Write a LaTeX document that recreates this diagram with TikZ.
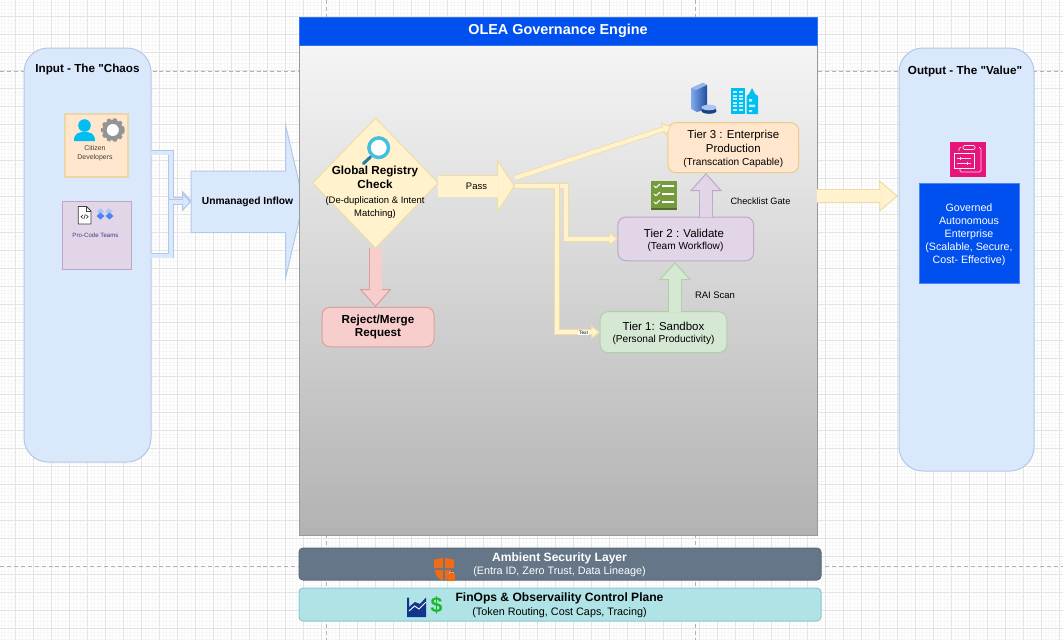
\documentclass[tikz,border=0pt]{standalone}
\usepackage{fontspec}
\setmainfont{Liberation Sans}
\newfontfamily\qf{Liberation Sans}
\usetikzlibrary{arrows.meta,shapes.geometric,calc}
\definecolor{lanefill}{HTML}{DAE8FC}
\definecolor{laneline}{HTML}{B2C8E8}
\definecolor{creamfill}{HTML}{FFF2CC}
\definecolor{creamline}{HTML}{EFDDA6}
\definecolor{redfill}{HTML}{F8CECC}
\definecolor{redline}{HTML}{D9A09E}
\definecolor{orangefill}{HTML}{FFE6CC}
\definecolor{orangeline}{HTML}{EBCB8B}
\definecolor{citizenline}{HTML}{EBD6A8}
\definecolor{purplefill}{HTML}{E1D5E7}
\definecolor{purpleline}{HTML}{BBA8C8}
\definecolor{greenfill}{HTML}{D5E8D4}
\definecolor{greenline}{HTML}{B0D0A4}
\definecolor{engineblue}{HTML}{0050EF}
\definecolor{slatefill}{HTML}{647687}
\definecolor{tealfill}{HTML}{B0E3E6}
\definecolor{tealline}{HTML}{8CC8CE}
\definecolor{iconcyan}{HTML}{00BEF2}
\definecolor{gridmajor}{HTML}{E4E4E4}
\definecolor{gridminor}{HTML}{F7F7F7}
\definecolor{diamonddark}{HTML}{4A86F0}
\definecolor{diamondlight}{HTML}{A9C6F8}
\definecolor{checkgreen}{HTML}{759B3C}
\definecolor{pinkicon}{HTML}{E7157B}
\definecolor{shieldorange}{HTML}{F26A13}
\definecolor{navyicon}{HTML}{10358C}
\definecolor{lensblue}{HTML}{45C0DC}
\definecolor{handleblue}{HTML}{1E7FA8}
\definecolor{serverblue}{HTML}{2A6FE0}
\definecolor{dollargreen}{HTML}{1CB82C}
\newcommand\fHead{\fontsize{10.8pt}{12.5pt}\selectfont}
\newcommand\fL{\fontsize{8.75pt}{10.6pt}\selectfont}
\newcommand\fTier{\fontsize{8.6pt}{10.9pt}\selectfont}
\newcommand\fTierSub{\fontsize{7.6pt}{9.6pt}\selectfont}
\newcommand\fInflow{\fontsize{7.7pt}{9.6pt}\selectfont}
\newcommand\fBar{\fontsize{9.05pt}{10.6pt}\selectfont}
\newcommand\fBarSub{\fontsize{8.1pt}{9.6pt}\selectfont}
\newcommand\fGov{\fontsize{8pt}{9.7pt}\selectfont}
\newcommand\fS{\fontsize{7.1pt}{9.75pt}\selectfont}
\newcommand\fT{\fontsize{7.1pt}{9.6pt}\selectfont}
\tikzset{
  wh/.style 2 args={minimum width=#1*0.75pt,minimum height=#2*0.75pt,inner sep=0pt,outer sep=0pt},
  thinline/.style={line width=0.75pt},
  lanebox/.style={thinline,rectangle,rounded corners=18pt,fill=lanefill,draw=laneline},
  tierbox/.style={thinline,rectangle,rounded corners=6pt,align=center},
  txt/.style={inner sep=0pt,outer sep=0pt,align=center},
  blockflow/.style n args={5}{line width=#1*0.75pt,draw=#4,shorten >={(#2-1)*0.75pt},
    preaction={draw=#5,line width={(#1+1.6)*0.75pt},shorten >=0pt,
      -{Triangle[length=#2*0.75pt,width=#3*0.75pt,fill=#4,color=#5,line width=0.75pt]}}},
  thincream/.style={blockflow={4}{9}{14}{creamfill}{creamline}},
  thinblue/.style={blockflow={4}{9}{19}{lanefill}{laneline}},
}
\begin{document}
\begin{tikzpicture}[x=0.75pt,y=-0.75pt]
\useasboundingbox (0,0) rectangle (1063,640);
\fill[white] (0,0) rectangle (1063,640);
% grid
\foreach \i in {0,...,295}{\draw[gridminor,line width=0.5pt] ({\i*3.6+1},0) -- ({\i*3.6+1},640);}
\foreach \i in {0,...,178}{\draw[gridminor,line width=0.5pt] (0,{\i*3.6+2.1}) -- (1063,{\i*3.6+2.1});}
\foreach \i in {0,...,59}{\draw[gridmajor,line width=0.6pt] ({\i*18+15.3},0) -- ({\i*18+15.3},640);}
\foreach \i in {-1,...,35}{\draw[gridmajor,line width=0.6pt] (0,{\i*18+16.5}) -- (1063,{\i*18+16.5});}
\draw[black!30,line width=0.6pt,dash pattern=on 3pt off 2.2pt] (0,71) -- (1063,71);
\draw[black!30,line width=0.6pt,dash pattern=on 3pt off 2.2pt] (0,566.3) -- (1063,566.3);
\draw[black!30,line width=0.6pt,dash pattern=on 3pt off 2.2pt] (326.7,0) -- (326.7,640);
\draw[black!30,line width=0.6pt,dash pattern=on 3pt off 2.2pt] (695,0) -- (695,640);

% lanes
\node[lanebox,wh={127}{414}] (inlane) at (87.5,255) {};
\node[lanebox,wh={135}{423}] (outlane) at (966.5,259.5) {};
\node[txt,font=\fL\bfseries] (inlabel) at (87.5,69.5) {Input - The {\qf"}Chaos};
\node[txt,font=\fL\bfseries] (outlabel) at (965,71) {Output - The {\qf"}Value{\qf"}};

% input boxes
\node[rectangle,wh={63}{63},fill=orangefill,draw=citizenline,line width=1.5pt] (citizen) at (96.5,145) {};
\node[rectangle,wh={69}{68},fill=purplefill,draw=purpleline,line width=0.75pt] (procode) at (96.5,235) {};
\node[txt,font=\fontsize{5.2pt}{6.8pt}\selectfont,text=black!75] (citizentxt) at (95,153.5) {Citizen\\Developers};
\node[txt,font=\fontsize{4.6pt}{6.8pt}\selectfont,text=blue!35!black!75] (procodetxt) at (95.5,235.5) {Pro-Code Teams};
% person
\fill[iconcyan] (84.5,125.5) circle (6.3);
\fill[iconcyan] (74,141) .. controls (74,133) and (79,132) .. (84.5,132) .. controls (90,132) and (95,133) .. (95,141) -- cycle;
% gear
\draw[black!42,line width=2.1pt,dash pattern=on 2.6pt off 2.1pt] (112.8,130) circle (10.6);
\draw[black!42,line width=3.2pt,fill=white] (112.8,130) circle (8.3);
% file icon
\draw[black!75,line width=0.6pt,fill=white,line join=round] (78.3,206.5) -- (86.5,206.5) -- (91,211) -- (91,224) -- (78.3,224) -- cycle;
\draw[black!75,line width=0.45pt] (86.5,206.5) -- (86.5,211) -- (91,211);
\draw[black!75,line width=0.5pt] (83,215) -- (81,216.7) -- (83,218.4) (86.2,215) -- (88.2,216.7) -- (86.2,218.4) (85.3,214.3) -- (83.9,219);
% diamonds icon
\fill[diamondlight] (97,211.5) -- (100.5,208) -- (104,211.5) -- (100.5,215) -- cycle;
\fill[diamondlight] (105.5,211.5) -- (109,208) -- (112.5,211.5) -- (109,215) -- cycle;
\fill[diamonddark] (96.5,216) -- (100.5,212.5) -- (104.5,216) -- (100.5,219.5) -- cycle;
\fill[diamonddark] (105.5,216) -- (109.5,212.5) -- (113.5,216) -- (109.5,219.5) -- cycle;

% inflow elbows
\coordinate (inA) at (151,152.5);
\coordinate (inB) at (151,255.5);
\coordinate (inflowW) at (191,201);
\draw[thinblue] (inA) -- (171,152.5) -- (171,200) -- ($(inflowW)+(0,-1)$);
\draw[thinblue] (inB) -- (171,255.5) -- (171,202) -- ($(inflowW)+(0,1)$);

% unmanaged inflow block
\draw[thinline,fill=lanefill,draw=laneline,line join=miter]
  (inflowW |- 0,171) -- (285.5,171) -- (285.5,125) -- (303.5,201.5) -- (285.5,278) -- (285.5,232.5) -- (inflowW |- 0,232.5) -- cycle;
\node[txt,font=\fInflow\bfseries] (inflowtxt) at (247.5,201.5) {Unmanaged Inflow};

% engine
\shade[top color=black!4,bottom color=black!30] (299,45) rectangle (817,535);
\node[rectangle,wh={518}{490},draw=black!40,thinline] (engine) at (558,290) {};
\node[rectangle,wh={518}{28},fill=engineblue,draw=engineblue!80!white,thinline,text=white,font=\fHead\bfseries] (enginehead) at (558,31) {\raisebox{-0.6pt}{OLEA Governance Engine}};

% registry diamond
\node[diamond,aspect=0.965,wh={125.4}{130},fill=creamfill,draw=creamline,thinline] (registry) at (375.5,183) {};
\draw[handleblue,line width=2.3pt,line cap=round] (370.5,157) -- (363.5,163.5);
\draw[lensblue,line width=2.6pt,fill=white] (378.7,147.7) circle (9.8);
\node[txt,font=\fL\bfseries] (registrytitle) at (375,177) {Global Registry\\Check};
\node[txt,font=\fS] (registrysub) at (375,207.8) {(De-duplication \& Intent\\Matching)};

% reject
\node[tierbox,wh={112}{39.5},fill=redfill,draw=redline,font=\fL\bfseries] (reject) at (378,327) {\raisebox{-0.8pt}{Reject/Merge}\\\raisebox{-0.4pt}{Request}};
\coordinate (rejectin) at (375.5,307);
\draw[blockflow={12}{18}{32}{redfill}{redline}] (registry.south) -- (rejectin);

% tiers
\node[tierbox,wh={130.7}{50},fill=orangefill,draw=orangeline] (tierthree) at (733.3,147.7) {};
\node[tierbox,wh={135.7}{43.7},fill=purplefill,draw=purpleline] (tiertwo) at (685.8,238.9) {};
\node[tierbox,wh={126.7}{41},fill=greenfill,draw=greenline] (tierone) at (663.4,332.2) {};
\node[txt,font=\fTier] (tierthreetitle) at (733.3,141.3) {Tier 3 : Enterprise\\Production};
\node[txt,font=\fTierSub] (tierthreesub) at (733.3,162.7) {(Transcation Capable)};
\node[txt,font=\fTier] (tiertwotitle) at (684,233.5) {Tier 2 : Validate};
\node[txt,font=\fTierSub] (tiertwosub) at (685.5,246.7) {(Team Workflow)};
\node[txt,font=\fTier] (tieronetitle) at (663.5,326.5) {Tier 1: Sandbox};
\node[txt,font=\fTierSub] (tieronesub) at (663.5,339.7) {(Personal Productivity)};

% pass arrow
\coordinate (passtip) at (515,186);
\draw[blockflow={21}{18}{54}{creamfill}{creamline}] (registry.east |- passtip) -- (passtip);
\node[txt,font=\fT] (passtxt) at (476.5,186) {Pass};

% tier flows
\coordinate (forkup) at (515,178);
\coordinate (tierthreein) at (671.5,126.5);
\draw[thincream] (forkup) -- (tierthreein);
\draw[thincream] (passtip) -- (566,186) |- (tiertwo.west);
\draw[thincream] (passtip) -- (557,186) |- (tierone.west);
\node[txt,font=\fontsize{3.6pt}{4pt}\selectfont,fill=white,inner xsep=0.8pt,inner ysep=0.5pt] (texttag) at (583.5,333) {Text};

\draw[blockflow={12}{18}{32}{purplefill}{purpleline}] ([xshift=15.15pt]tiertwo.north) -- ([xshift=-20.5pt,yshift=-0.3pt]tierthree.south);
\draw[blockflow={12}{18}{32}{greenfill}{greenline}] ([xshift=8.7pt]tierone.north) -- ([xshift=-8.1pt,yshift=-1pt]tiertwo.south);
\node[txt,font=\fT] (raitxt) at (715,295.5) {RAI Scan};
\node[txt,font=\fontsize{6.9pt}{9pt}\selectfont] (gatetxt) at (760.5,201.5) {Checklist Gate};

% output
\coordinate (outtip) at (898,196);
\draw[blockflow={12.5}{19}{32}{creamfill}{creamline}] (engine.east |- outtip) -- (outtip);
\node[rectangle,wh={100}{100},fill=engineblue,draw=engineblue!70!white,thinline] (governed) at (969,233) {};
\node[txt,text=white,font=\fGov] (governedtxt) at (969,234.5) {Governed\\Autonomous\\Enterprise\\(Scalable, Secure,\\Cost- Effective)};

% pink icon
\node[rectangle,wh={35.5}{35.5},fill=pinkicon] (pink) at (967.8,159.4) {};
\draw[white!85!pinkicon,line width=0.5pt,rounded corners=1pt] (961,147.5) -- (959,147.5) -- (959,151) (979,147.5) -- (981,147.5) -- (981,172) -- (960,172) -- (960,168);
\draw[white!85!pinkicon,line width=0.5pt,rounded corners=1pt] (963,145.5) rectangle (975,149.5);
\draw[white,line width=0.65pt,fill=pinkicon] (954,153) rectangle (974,168);
\draw[white!85!pinkicon,line width=0.5pt] (957,158) -- (971,158) (957,163.5) -- (971,163.5) (960,156.5) -- (960,159.5) (967,162) -- (967,165);

% server and building icons
\shade[left color=white!40!serverblue,right color=serverblue!70!black] (691.5,88) -- (703,83) -- (707,85) -- (707,109) -- (697,112) -- (691.5,109) -- cycle;
\fill[white!50!serverblue] (691.5,88) -- (703,83) -- (707,85) -- (696,90) -- cycle;
\fill[serverblue!60!black] (702,107) rectangle (716,111);
\fill[serverblue!60!black] (709,111) ellipse (7.5 and 2.8);
\fill[white!60!serverblue] (709,107.5) ellipse (7.5 and 2.8);
\fill[iconcyan] (731,88) rectangle (745,114);
\foreach \wy in {91,94.5,98,101.5,105,108.5}{\fill[white!75!iconcyan] (733,\wy) rectangle (737,{\wy+2}); \fill[white!75!iconcyan] (739,\wy) rectangle (743,{\wy+2});}
\fill[iconcyan] (746.5,114) -- (746.5,96) -- (749,94) -- (752,88) -- (755,94) -- (758,96) -- (758,114) -- cycle;
\fill[white!75!iconcyan] (749,99) rectangle (752,101.5) (749,104.5) rectangle (755,107) (749,110) rectangle (752,112);

% checklist icon
\fill[checkgreen] (651,180.5) rectangle (677,209.5);
\fill[checkgreen!70!black] (651,208) rectangle (677,209.5);
\foreach \cy in {186,194,202}{
  \draw[white,line width=0.8pt] (654,\cy) -- (656,{\cy+1.7}) -- (660,{\cy-2});
  \draw[white,line width=1.1pt] (662,\cy) -- (674,\cy);}

% bottom bars
\node[rectangle,wh={522}{32},rounded corners=3pt,fill=slatefill,draw=slatefill!90!black,thinline] (security) at (560,564) {};
\node[txt,text=white,font=\fBar\bfseries] (sectitle) at (559.5,558.2) {Ambient Security Layer};
\node[txt,text=white,font=\fBarSub] (secsub) at (559.5,571.5) {(Entra ID, Zero Trust, Data Lineage)};
\node[rectangle,wh={522}{33},rounded corners=3pt,fill=tealfill,draw=tealline,thinline] (finops) at (560,604.5) {};
\node[txt,font=\fBar\bfseries] (fintitle) at (559.5,598.2) {FinOps \& Observaility Control Plane};
\node[txt,font=\fBarSub] (finsub) at (559.5,612.8) {(Token Routing, Cost Caps, Tracing)};

% shield
\fill[shieldorange] (434,559.5) -- (442.8,558) -- (442.8,568) -- (434,568) -- cycle;
\fill[shieldorange] (445.2,558) -- (454,559.5) -- (454,568) -- (445.2,568) -- cycle;
\fill[shieldorange] (434.5,570) -- (442.8,570) -- (442.8,581) .. controls (438,578) and (435.5,575) .. (434.5,570) -- cycle;
\fill[shieldorange] (445.2,570) -- (451,570) -- (451,578) -- (445.2,580) -- cycle;
\fill[shieldorange] (447.5,574) rectangle (455,580.5);
\draw[white!30!shieldorange,line width=0.4pt] (449,574) -- (449,572.5) -- (453,572.5) -- (453,574);
% chart
\fill[navyicon] (407,597.5) -- (409,597.5) -- (409,615) -- (426,615) -- (426,617) -- (407,617) -- cycle;
\fill[navyicon] (409,607) -- (415,602) -- (420,604) -- (426,597.5) -- (426,615) -- (409,615) -- cycle;
\draw[white,line width=0.7pt] (409,611) -- (414.5,606) -- (419,609) -- (426,602);
% dollar
\node[txt,font=\fontsize{16pt}{16pt}\selectfont\bfseries,text=dollargreen] (dollar) at (436.5,605.5) {\$};
\end{tikzpicture}
\end{document}
